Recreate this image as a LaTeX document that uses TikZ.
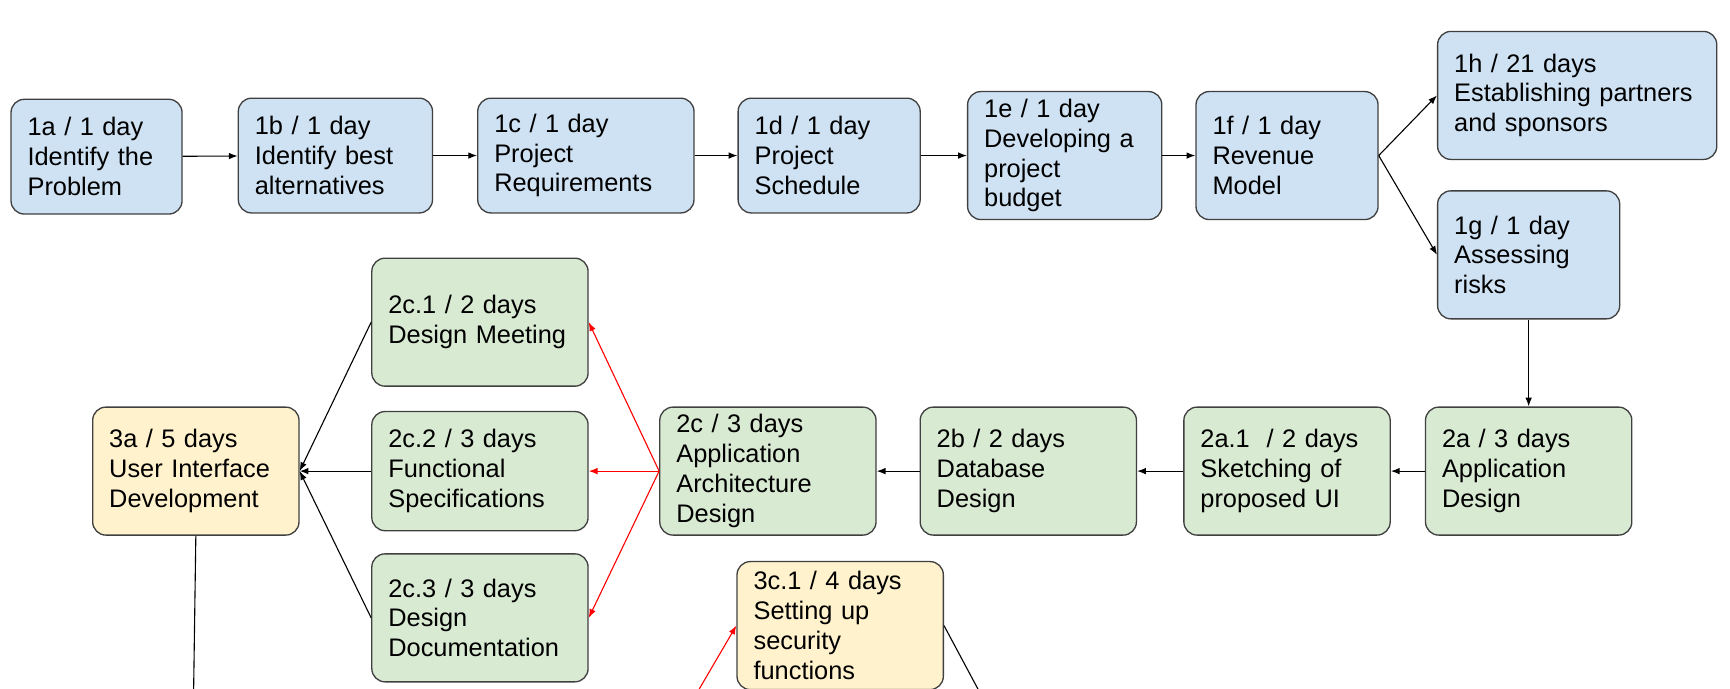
\documentclass[tikz,border=0pt]{standalone}
\usepackage{fontspec}
\setmainfont{Liberation Sans}
\usetikzlibrary{arrows.meta}
\definecolor{phaseoneblue}{HTML}{CFE2F3}
\definecolor{phasetwogreen}{HTML}{D9EAD3}
\definecolor{phasethreeyellow}{HTML}{FFF2CC}

\begin{document}
\begin{tikzpicture}[x=0.5pt, y=0.5pt,
    task/.style={draw=black!75, line width=0.6pt, rounded corners=6pt, align=left,
        inner xsep=7.5pt, inner ysep=0pt, font=\fontsize{11.5}{13.5}\selectfont},
    phaseone/.style={fill=phaseoneblue},
    phasetwo/.style={fill=phasetwogreen},
    phasethree/.style={fill=phasethreeyellow},
    link/.style={-{Latex[length=4pt, width=3pt]}, line width=0.5pt},
    redlink/.style={link, red}]
    \useasboundingbox (0,0) rectangle (1568,-624);

    \node[task, phaseone, text width=62.5pt, minimum height=52pt] (t1a) at (87.5,-142) {1a / 1 day\\Identify the\\Problem};
    \node[task, phaseone, text width=73pt, minimum height=52pt] (t1b) at (304,-141) {1b / 1 day\\Identify best\\alternatives};
    \node[task, phaseone, text width=83pt, minimum height=52pt] (t1c) at (531,-141) {1c / 1 day\\Project\\Requirements};
    \node[task, phaseone, text width=67.5pt, minimum height=52pt] (t1d) at (751.5,-141) {1d / 1 day\\Project\\Schedule};
    \node[task, phaseone, text width=73pt, minimum height=58pt] (t1e) at (965,-141) {1e / 1 day\\Developing a\\project\\budget};
    \node[task, phaseone, text width=67.5pt, minimum height=58pt] (t1f) at (1166.5,-141) {1f / 1 day\\Revenue\\Model};
    \node[task, phaseone, text width=111.5pt, minimum height=58pt] (t1h) at (1429.5,-86.5) {1h / 21 days\\Establishing partners\\and sponsors};
    \node[task, phaseone, text width=67.5pt, minimum height=58pt] (t1g) at (1385.5,-231) {1g / 1 day\\Assessing\\risks};

    \node[task, phasetwo, text width=78.5pt, minimum height=58pt] (t2a) at (1385.5,-427) {2a / 3 days\\Application\\Design};
    \node[task, phasetwo, text width=78.5pt, minimum height=58pt] (t2a1) at (1166.5,-427) {2a.1\ \ / 2 days\\Sketching of\\proposed UI};
    \node[task, phasetwo, text width=83pt, minimum height=58pt] (t2b) at (932,-427) {2b / 2 days\\Database\\Design};
    \node[task, phasetwo, text width=83pt, minimum height=58pt] (t2c) at (696,-427) {2c / 3 days\\Application\\Architecture\\Design};
    \node[task, phasetwo, text width=83pt, minimum height=58pt] (t2c1) at (435,-292) {2c.1 / 2 days\\Design Meeting};
    \node[task, phasetwo, text width=83pt, minimum height=54pt] (t2c2) at (435,-427) {2c.2 / 3 days\\Functional\\Specifications};
    \node[task, phasetwo, text width=83pt, minimum height=58pt] (t2c3) at (435,-560) {2c.3 / 3 days\\Design\\Documentation};

    \node[task, phasethree, text width=78.5pt, minimum height=58pt] (t3a) at (177.5,-427) {3a / 5 days\\User Interface\\Development};
    \node[task, phasethree, text width=78.5pt, minimum height=58pt] (t3c1) at (761.5,-567) {3c.1 / 4 days\\Setting up\\security\\functions};

    \coordinate (down3a) at (175,-660);
    \coordinate (down3c1) at (900,-650);
    \coordinate (up3c1) at (620,-648);

    \draw[link] (t1a) -- (t1b);
    \draw[link] (t1b) -- (t1c);
    \draw[link] (t1c) -- (t1d);
    \draw[link] (t1d) -- (t1e);
    \draw[link] (t1e) -- (t1f);
    \draw[link] (t1f.east) -- (t1h.west);
    \draw[link] (t1f.east) -- (t1g.west);
    \draw[link] (t1g) -- (t2a);
    \draw[link] (t2a) -- (t2a1);
    \draw[link] (t2a1) -- (t2b);
    \draw[link] (t2b) -- (t2c);
    \draw[redlink] (t2c.west) -- (t2c1.east);
    \draw[redlink] (t2c.west) -- (t2c2.east);
    \draw[redlink] (t2c.west) -- (t2c3.east);
    \draw[link] (t2c1.west) -- (t3a.east);
    \draw[link] (t2c2.west) -- (t3a.east);
    \draw[link] (t2c3.west) -- (t3a.east);
    \draw[line width=0.5pt] (t3a.south) -- (down3a);
    \draw[line width=0.5pt] (t3c1.east) -- (down3c1);
    \draw[redlink] (up3c1) -- (t3c1.west);
\end{tikzpicture}
\end{document}
